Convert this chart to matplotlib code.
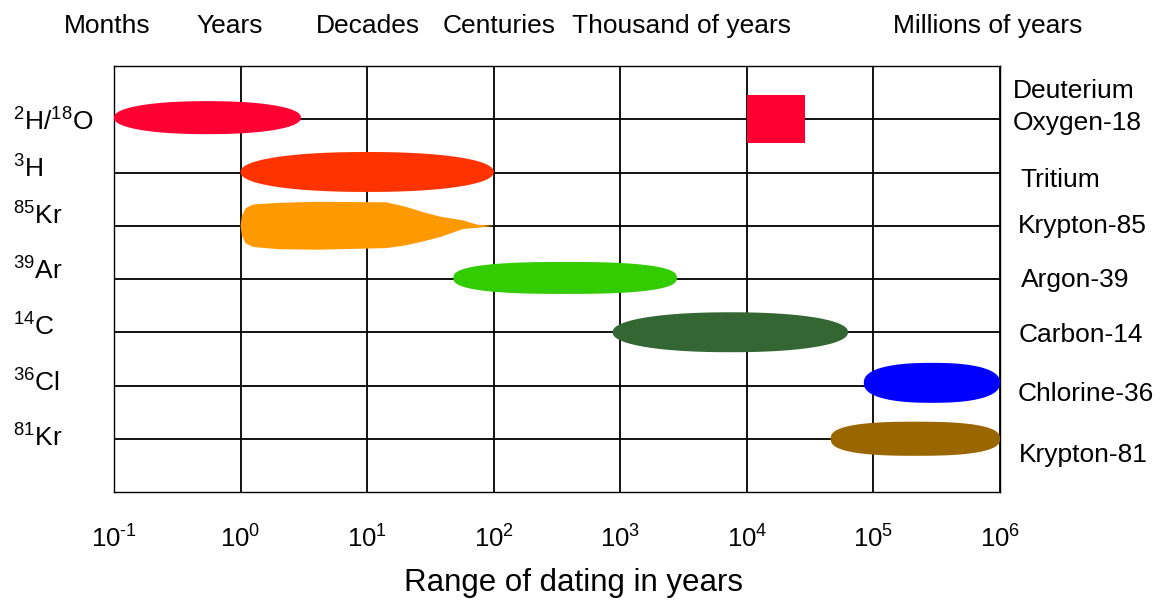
import numpy as np
import matplotlib
matplotlib.use('Agg')
import matplotlib.pyplot as plt
from matplotlib.patches import Polygon, Rectangle
from matplotlib.ticker import NullLocator

plt.rcParams['font.family'] = ['Liberation Sans', 'DejaVu Sans']
plt.rcParams['mathtext.fontset'] = 'custom'
plt.rcParams['mathtext.rm'] = 'Liberation Sans'
plt.rcParams['mathtext.it'] = 'Liberation Sans:italic'

# isotope rows, top to bottom
left_labels = [r'$^{2}\mathrm{H}/^{18}\mathrm{O}$', r'$^{3}\mathrm{H}$', r'$^{85}\mathrm{Kr}$',
               r'$^{39}\mathrm{Ar}$', r'$^{14}\mathrm{C}$', r'$^{36}\mathrm{Cl}$', r'$^{81}\mathrm{Kr}$']
right_labels = ['Deuterium\nOxygen-18', 'Tritium', 'Krypton-85', 'Argon-39',
                'Carbon-14', 'Chlorine-36', 'Krypton-81']
rows = [7, 6, 5, 4, 3, 2, 1]
colors = ['#ff0033', '#ff3300', '#ff9900', '#33cc00', '#336633', '#0000ff', '#996600']

# dating ranges in years (Kr-85 drawn from its own profile below)
range_min = [0.1, 1, None, 48, 870, 84000, 46000]
range_max = [3, 100, None, 2800, 63000, 1e6, 1e6]
centre = [7.03, 6.01, 5.0, 4.02, 3.0, 2.05, 1.0]
half_height = [0.31, 0.375, None, 0.30, 0.375, 0.375, 0.32]
shape_power = [2.2, 2.2, None, 2.6, 2.2, 2.4, 2.6]

# Kr-85 outline: log10(years) with upper / lower half heights
kr85_logx = [0.0, 0.01, 0.04, 0.1, 0.3, 0.6, 1.15, 1.3, 1.45, 1.58, 1.76, 1.87, 2.0]
kr85_top = [0.0, 0.18, 0.33, 0.4, 0.43, 0.45, 0.44, 0.36, 0.25, 0.17, 0.1, 0.02, 0.0]
kr85_bot = [0.0, -0.18, -0.33, -0.4, -0.44, -0.45, -0.42, -0.37, -0.29, -0.21, -0.06, -0.04, 0.0]

# deuterium / oxygen-18 box
box_x = [1e4, 2.9e4]
box_y = [6.55, 7.45]

period_labels = ['Months', 'Years', 'Decades', 'Centuries', 'Thousand of years', 'Millions of years']
period_x = [107, 230, 368, 499, 681, 988]
decades = [-1, 0, 1, 2, 3, 4, 5, 6]

W, H = 1166, 602
fig = plt.figure(figsize=(W / 100, H / 100), dpi=100)
ax = fig.add_axes([114 / W, 1 - 492 / H, 886 / W, 426 / H])
ax.set_xscale('log')
ax.set_xlim(0.1, 1e6)
ax.set_ylim(0, 8)

ax.set_xticks([10.0 ** d for d in decades])
ax.set_xticklabels([r'$10^{\text{%d}}$' % d for d in decades], fontsize=18.5)
ax.xaxis.set_minor_locator(NullLocator())
ax.set_yticks(rows)
ax.set_yticklabels([])
ax.tick_params(length=0, pad=24)
ax.grid(True, color='black', lw=1.3)
for s in ax.spines.values():
    s.set_color('black')
    s.set_linewidth(1.0)

t = np.linspace(0, 2 * np.pi, 300)
for i in range(len(rows)):
    if range_min[i] is None:
        continue
    lo, hi = np.log10(range_min[i]), np.log10(range_max[i])
    c, a = (lo + hi) / 2, (hi - lo) / 2
    p = 2.0 / shape_power[i]
    xs = c + a * np.sign(np.cos(t)) * np.abs(np.cos(t)) ** p
    ys = centre[i] + half_height[i] * np.sign(np.sin(t)) * np.abs(np.sin(t)) ** p
    ax.add_patch(Polygon(np.column_stack([10 ** xs, ys]), closed=True,
                         facecolor=colors[i], edgecolor='none', zorder=3))

kx = np.array(kr85_logx)
px = np.concatenate([kx, kx[::-1]])
py = centre[2] + np.concatenate([kr85_top, kr85_bot[::-1]])
ax.add_patch(Polygon(np.column_stack([10 ** px, py]), closed=True,
                     facecolor=colors[2], edgecolor='none', zorder=3))

ax.add_patch(Rectangle((box_x[0], box_y[0]), box_x[1] - box_x[0], box_y[1] - box_y[0],
                       facecolor=colors[0], edgecolor='none', zorder=3))


def fx(x):
    return x / W


def fy(y):
    return 1 - y / H


# labels placed in pixel positions
left_base = [131, 178, 225, 280, 336, 392, 447]
for lab, yb in zip(left_labels, left_base):
    fig.text(fx(13), fy(yb), lab, fontsize=19, ha='left', va='baseline')

right_pos = [(1013, 98), (1020, 187), (1018, 233), (1021, 287), (1019, 342), (1018, 401), (1019, 462)]
for lab, (x, yb) in zip(right_labels, right_pos):
    if '\n' in lab:
        a, b = lab.split('\n')
        fig.text(fx(x), fy(yb), a, fontsize=19, ha='left', va='baseline')
        fig.text(fx(x), fy(130), b, fontsize=19, ha='left', va='baseline')
    else:
        fig.text(fx(x), fy(yb), lab, fontsize=19, ha='left', va='baseline')

for lab, x in zip(period_labels, period_x):
    fig.text(fx(x), fy(33), lab, fontsize=19, ha='center', va='baseline')

fig.text(fx(574), fy(591), 'Range of dating in years', fontsize=22.5, ha='center', va='baseline')

fig.savefig('out.png', dpi=100)
